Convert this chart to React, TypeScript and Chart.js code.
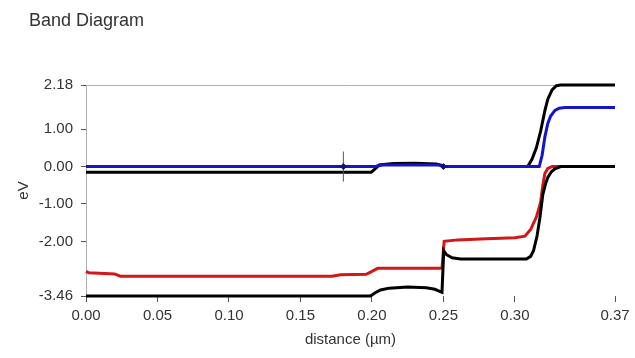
import React, { useEffect, useRef } from "react";
import { Chart, registerables } from "chart.js";

Chart.register(...registerables);

// Axis ticks
const xTicks = [0, 0.05, 0.1, 0.15, 0.2, 0.25, 0.3, 0.37];
const yTicks = [2.18, 1.0, 0.0, -1.0, -2.0, -3.46];

// Upper black band (Ec)
const ecX = [0, 0.1995, 0.201, 0.205, 0.215, 0.23, 0.245, 0.249, 0.251, 0.309, 0.312, 0.315, 0.318, 0.321, 0.323, 0.326, 0.329, 0.332, 0.37];
const ecY = [-0.15, -0.15, -0.1, 0.04, 0.08, 0.09, 0.07, 0.03, 0.0, 0.0, 0.2, 0.5, 0.95, 1.5, 1.8, 2.05, 2.16, 2.18, 2.18];

// Blue level
const efX = [0, 0.2, 0.203, 0.207, 0.247, 0.25, 0.317, 0.319, 0.321, 0.323, 0.325, 0.328, 0.331, 0.335, 0.37];
const efY = [0, 0, 0.01, 0.04, 0.04, 0.0, 0.0, 0.3, 0.8, 1.15, 1.35, 1.5, 1.56, 1.58, 1.58];

// Red level
const fpX = [0, 0.002, 0.02, 0.024, 0.172, 0.178, 0.196, 0.2, 0.204, 0.249, 0.2505, 0.26, 0.28, 0.3, 0.307, 0.311, 0.315, 0.318, 0.3195, 0.321, 0.323, 0.326, 0.37];
const fpY = [-2.8, -2.84, -2.87, -2.93, -2.93, -2.89, -2.88, -2.8, -2.72, -2.72, -2.0, -1.96, -1.93, -1.9, -1.86, -1.68, -1.35, -0.95, -0.5, -0.18, -0.05, 0.0, 0.0];

// Lower black band (Ev)
const evX = [0, 0.199, 0.202, 0.206, 0.212, 0.225, 0.238, 0.244, 0.249, 0.2502, 0.252, 0.256, 0.262, 0.308, 0.311, 0.313, 0.3155, 0.3175, 0.3195, 0.3215, 0.323, 0.3255, 0.328, 0.332, 0.37];
const evY = [-3.46, -3.46, -3.38, -3.3, -3.25, -3.22, -3.24, -3.28, -3.36, -2.25, -2.35, -2.44, -2.47, -2.47, -2.4, -2.25, -1.85, -1.36, -0.75, -0.45, -0.29, -0.14, -0.06, 0.0, 0.0];

// Cursor markers
const cursorX = [0.18];
const cursorY = [0];
const diamondX = [0.18, 0.25];
const diamondY = [0, 0];

const pts = (xs: number[], ys: number[]) => xs.map((x, i) => ({ x, y: ys[i] }));

const FONT = '"Liberation Sans", Arial, sans-serif';

export default function App() {
  const ref = useRef<HTMLCanvasElement>(null);

  useEffect(() => {
    if (!ref.current) return;
    const topLine = {
      id: "topLine",
      beforeDatasetsDraw(chart: any) {
        const { ctx, chartArea } = chart;
        ctx.save();
        ctx.strokeStyle = "#b0b0b0";
        ctx.lineWidth = 1;
        ctx.beginPath();
        ctx.moveTo(chartArea.left, Math.round(chartArea.top) + 0.5);
        ctx.lineTo(chartArea.right, Math.round(chartArea.top) + 0.5);
        ctx.stroke();
        ctx.restore();
      },
    };

    const line = (data: any, color: string, order: number) => ({
      data,
      showLine: true,
      borderColor: color,
      backgroundColor: color,
      borderWidth: 3,
      pointRadius: 0,
      tension: 0,
      clip: false,
      order,
    });

    const chart = new Chart(ref.current, {
      type: "scatter",
      data: {
        datasets: [
          line(pts(fpX, fpY), "#d01818", 4),
          line(pts(evX, evY), "#000000", 3),
          line(pts(ecX, ecY), "#000000", 2),
          line(pts(efX, efY), "#1414c8", 1),
          {
            data: pts(cursorX, cursorY),
            showLine: false,
            pointStyle: "line",
            pointRotation: 90,
            pointRadius: 15,
            borderColor: "#555555",
            borderWidth: 1,
            clip: false,
            order: 0,
          } as any,
          {
            data: pts(diamondX, diamondY),
            showLine: false,
            pointStyle: "rectRot",
            pointRadius: 3,
            borderColor: "#101080",
            backgroundColor: "#101080",
            borderWidth: 1,
            clip: false,
            order: -1,
          } as any,
        ],
      },
      options: {
        animation: false,
        responsive: true,
        maintainAspectRatio: false,
        layout: { padding: { left: 0, right: 20, top: 85, bottom: 0 } },
        plugins: {
          legend: { display: false },
          tooltip: { enabled: false },
          title: { display: false },
        },
        scales: {
          x: {
            type: "linear",
            min: 0,
            max: 0.37,
            afterBuildTicks: (s: any) => {
              s.ticks = xTicks.map((v) => ({ value: v }));
            },
            afterFit: (s: any) => {
              s.height = 62;
            },
            ticks: {
              autoSkip: false,
              maxRotation: 0,
              padding: 5,
              color: "#333333",
              font: { family: FONT, size: 15 },
              callback: (v: any) => Number(v).toFixed(2),
            },
            grid: { display: true, drawOnChartArea: false, drawTicks: true, tickLength: 6, color: "#555555" },
            border: { display: false },
            title: {
              display: true,
              text: "distance (µm)",
              color: "#333333",
              font: { family: FONT, size: 15 },
              padding: { top: 0, bottom: 9 },
            },
          },
          y: {
            type: "linear",
            min: -3.46,
            max: 2.18,
            afterBuildTicks: (s: any) => {
              s.ticks = yTicks.map((v) => ({ value: v }));
            },
            afterFit: (s: any) => {
              s.width = 86;
            },
            ticks: {
              autoSkip: false,
              padding: 8,
              color: "#333333",
              font: { family: FONT, size: 15 },
              callback: (v: any) => Number(v).toFixed(2),
            },
            grid: { display: true, drawOnChartArea: false, drawTicks: true, tickLength: 5, color: "#555555" },
            border: { display: true, color: "#b0b0b0", width: 1 },
            title: {
              display: true,
              text: "eV",
              color: "#333333",
              font: { family: FONT, size: 15 },
              padding: { top: 15, bottom: 0 },
            },
          },
        },
      } as any,
      plugins: [topLine],
    });
    return () => chart.destroy();
  }, []);

  return (
    <div style={{ position: "fixed", left: 0, top: 0, width: 635, height: 358, background: "#ffffff" }}>
      <div style={{ position: "absolute", left: 0, top: 0, width: 635, height: 358 }}>
        <canvas ref={ref} />
      </div>
      <div
        style={{
          position: "absolute",
          left: 29,
          top: 10,
          font: `18px ${FONT}`,
          lineHeight: "20px",
          color: "#333333",
          whiteSpace: "nowrap",
        }}
      >
        Band Diagram
      </div>
    </div>
  );
}
